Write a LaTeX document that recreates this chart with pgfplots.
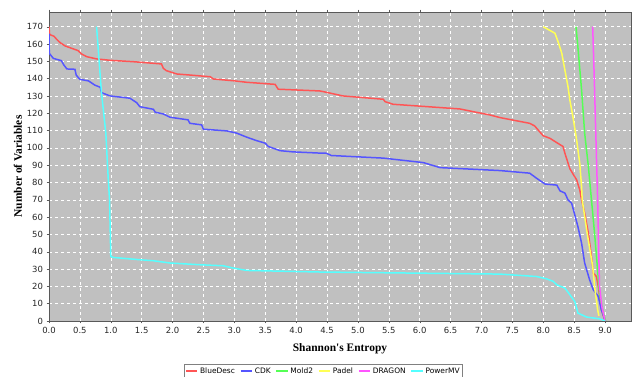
\documentclass[border=0pt]{standalone}
\usepackage{fontspec}
\setmainfont{Liberation Serif}
\newfontfamily\tickfont{DejaVu Sans}
\usepackage{pgfplots}
\pgfplotsset{compat=1.18}
\definecolor{cbd}{RGB}{255,85,85}
\definecolor{ccdk}{RGB}{85,85,255}
\definecolor{cmold}{RGB}{85,255,85}
\definecolor{cpadel}{RGB}{255,255,85}
\definecolor{cdragon}{RGB}{255,85,255}
\definecolor{cpmv}{RGB}{85,255,255}
\definecolor{bggray}{RGB}{192,192,192}
\begin{document}
\begin{tikzpicture}
\path[use as bounding box] (0,0) rectangle (632bp,377bp);
\begin{axis}[
  at={(49bp,56bp)}, anchor=south west,
  scale only axis, width=582bp, height=309bp,
  xmin=0, xmax=9.42, ymin=0, ymax=178.5,
  axis background/.style={fill=bggray},
  axis line style={gray!70!black, line width=0.8pt},
  xtick={0,0.5,...,9}, ytick={0,10,...,170},
  xticklabel style={/pgf/number format/.cd, fixed, fixed zerofill, precision=1},
  /pgf/number format/assume math mode=true,
  ticklabel style={font=\tickfont\fontsize{8.5}{10}\selectfont, text=black!85},
  tick align=outside, tick style={gray!70!black, thin}, major tick length=2.5pt,
  grid=major, grid style={white, dashed, line width=0.5pt},
  xlabel={\bfseries Shannon\textquotesingle s Entropy},
  ylabel={\bfseries Number of Variables},
  label style={font=\fontsize{11.5}{13}\selectfont},
  xlabel style={at={(axis description cs:0.5,0)}, anchor=center, yshift=-28bp},
  ylabel style={at={(axis description cs:0,0.5)}, anchor=center, yshift=31bp},
  legend columns=6,
  legend style={at={(0.4716,-0.162)}, anchor=center, draw=gray, fill=white,
    font=\tickfont\fontsize{7.5}{9}\selectfont, inner sep=1pt,
    /tikz/every even column/.append style={column sep=3pt}},
  legend image code/.code={\draw[mark repeat=2,mark phase=2] plot coordinates {(0cm,0cm) (0.4cm,0cm)};},
  every axis plot/.append style={line width=1.5pt},
]
\addplot[color=cbd] coordinates {(0,170)(0.01,165.5)(0.08,164.5)(0.13,162.5)(0.18,160.8)(0.26,158.9)(0.37,157.5)(0.47,156.2)(0.53,154.2)(0.61,152.7)(0.77,151.4)(0.99,150.6)(1.36,149.8)(1.82,148.5)(1.85,146)(1.90,144.6)(2.07,142.7)(2.61,141.1)(2.66,139.8)(2.98,138.8)(3.20,137.9)(3.66,136.7)(3.71,133.9)(4.38,132.9)(4.44,132.5)(4.76,130)(5.41,128.1)(5.44,126.7)(5.57,125.2)(6.65,122.5)(6.87,120.9)(7.14,119)(7.30,117.5)(7.78,114.2)(7.86,112.7)(7.94,109.4)(8.00,107)(8.11,105.5)(8.22,103)(8.32,100.8)(8.35,96.9)(8.43,88)(8.54,81.5)(8.59,75.8)(8.62,70)(8.67,62.3)(8.73,50.8)(8.78,37.3)(8.81,27.7)(8.86,25.7)(8.89,20)(8.94,6.5)(9.0,0)};
\addlegendentry{BlueDesc}
\addplot[color=ccdk] coordinates {(0,166)(0.005,154.6)(0.07,151.7)(0.2,150.4)(0.24,147.9)(0.29,145.6)(0.42,145.4)(0.44,142.1)(0.47,140.8)(0.50,139.6)(0.64,138.7)(0.74,136.3)(0.83,135)(0.85,131.9)(0.99,130)(1.31,128.7)(1.42,126.1)(1.47,123.8)(1.69,122.3)(1.72,120.6)(1.85,119.6)(1.96,117.7)(2.25,116.2)(2.28,114.2)(2.47,113.3)(2.50,110.8)(2.88,109.8)(3.04,108.5)(3.20,106.2)(3.36,104.2)(3.50,102.7)(3.55,100.8)(3.74,98.4)(3.95,97.7)(4.38,97)(4.49,96.9)(4.57,95.6)(5.41,94.1)(6.06,91.5)(6.33,88.6)(7.30,86.9)(7.78,85.4)(7.89,82.5)(8.03,79.1)(8.22,78.5)(8.27,75.2)(8.35,73.9)(8.40,70)(8.46,68)(8.56,54.6)(8.62,45)(8.67,33.5)(8.75,23.8)(8.81,18)(8.89,14.2)(8.94,6.5)(9.0,0.5)};
\addlegendentry{CDK}
\addplot[color=cmold] coordinates {(8.53,170)(8.56,158.5)(8.62,133.5)(8.67,108.5)(8.73,89.2)(8.78,70)(8.83,50.8)(8.91,16.2)(8.97,4.6)(9.01,0)};
\addlegendentry{Mold2}
\addplot[color=cpadel] coordinates {(8.0,170)(8.19,166.2)(8.24,161.3)(8.30,154.6)(8.35,145)(8.40,135.4)(8.43,127.7)(8.48,118)(8.54,104.6)(8.59,91.2)(8.62,77.7)(8.63,70)(8.71,50.8)(8.80,31.5)(8.83,20)(8.88,6.5)(8.90,3)};
\addlegendentry{Padel}
\addplot[color=cdragon] coordinates {(8.80,170)(8.82,146.9)(8.85,108.5)(8.88,70)(8.91,20)(8.95,8)(9.0,0)};
\addlegendentry{DRAGON}
\addplot[color=cpmv] coordinates {(0.77,170)(0.85,131.6)(0.92,108.5)(0.96,81.5)(0.98,70)(1.0,37.3)(1.04,36.7)(1.47,35.4)(1.69,34.8)(1.96,33.5)(2.44,32.5)(2.82,31.9)(2.98,30.6)(3.20,29.2)(4.38,28.3)(7.30,27.1)(7.89,25.7)(8.05,24.4)(8.16,22.9)(8.22,20.9)(8.35,19)(8.43,15.2)(8.51,11.3)(8.54,7.5)(8.56,4.6)(8.70,2.3)(8.92,1.2)(9.0,0)};
\addlegendentry{PowerMV}
\end{axis}
\end{tikzpicture}
\end{document}
